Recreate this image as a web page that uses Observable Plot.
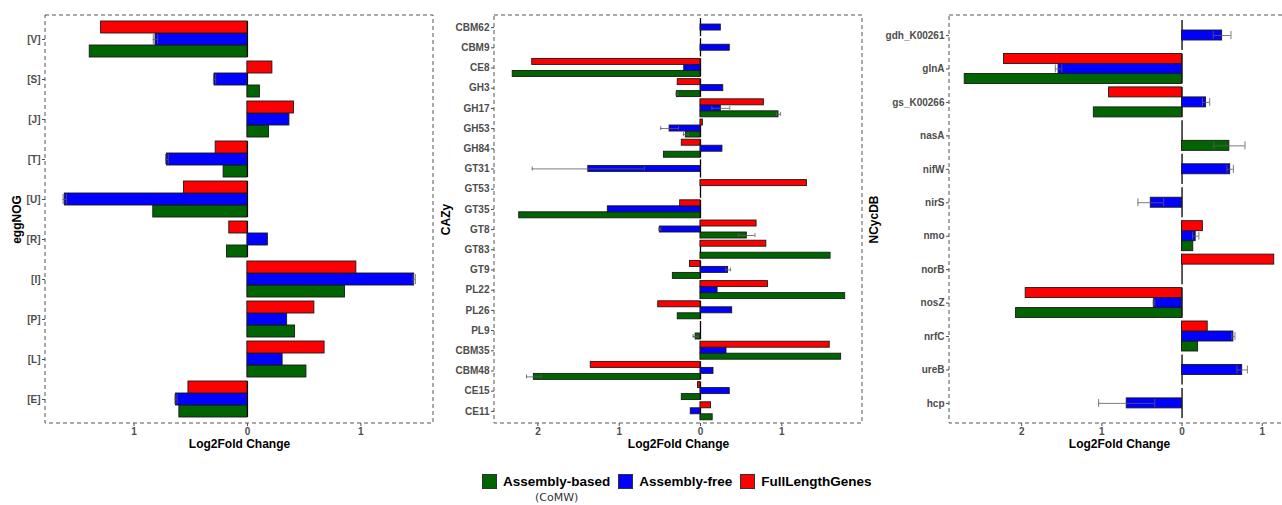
<!DOCTYPE html>
<html><head><meta charset="utf-8">
<script src="https://cdn.jsdelivr.net/npm/d3@7"></script>
<script src="https://cdn.jsdelivr.net/npm/@observablehq/plot@0.6"></script>
<style>
body{margin:0;width:1282px;height:505px;overflow:hidden;background:#fff;position:relative;font-family:"Liberation Sans",Arial,sans-serif}
.panel{position:absolute;top:0}
.panel svg{overflow:visible;max-width:none}
g[aria-label="fy-axis label"], g[aria-label="x-axis label"]{fill:#000;font-size:12px}
#legend{position:absolute;top:474px;left:482px;display:flex;align-items:flex-start}
.item{display:flex;align-items:flex-start;margin-right:8px}
.sw{width:13px;height:13px;border:1px solid #333;margin-right:6px;box-sizing:content-box}
.lab{font:bold 13.5px "Liberation Sans",Arial,sans-serif;color:#000;line-height:15px;text-align:center}
.note{font:11px "DejaVu Sans",sans-serif;color:#333;line-height:13px;margin-top:2px;font-weight:normal}
</style></head><body>
<div id="p1" class="panel" style="left:0px;width:441px"></div>
<div id="p2" class="panel" style="left:440px;width:430px"></div>
<div id="p3" class="panel" style="left:870px;width:427px"></div>
<div id="legend"></div>
<script>
const seriesNames = ["Assembly-based", "Assembly-free", "FullLengthGenes"];
const seriesColors = ["#006400", "#0000ff", "#ff0000"];
const seriesNotes = ["(CoMW)", "", ""];
const withinGroupOrder = ["FullLengthGenes", "Assembly-free", "Assembly-based"];

// eggNOG
const eggCats = ["[V]","[S]","[J]","[T]","[U]","[R]","[I]","[P]","[L]","[E]"];
const eggBased = [-1.39, 0.11, 0.19, -0.21, -0.83, -0.18, 0.86, 0.42, 0.52, -0.60];
const eggFree  = [-0.81, -0.29, 0.37, -0.71, -1.61, 0.18, 1.47, 0.35, 0.31, -0.63];
const eggFull  = [-1.29, 0.22, 0.41, -0.28, -0.56, -0.16, 0.96, 0.59, 0.68, -0.52];
const eggBasedErr = [0, 0, 0, 0, 0, 0, 0, 0, 0, 0];
const eggFreeErr  = [0.02, 0.01, 0, 0.012, 0.015, 0, 0.01, 0, 0, 0.01];

// CAZy
const cazyCats = ["CBM62","CBM9","CE8","GH3","GH17","GH53","GH84","GT31","GT53","GT35","GT8","GT83","GT9","PL22","PL26","PL9","CBM35","CBM48","CE15","CE11"];
const cazyBased = [0, 0, -2.31, -0.29, 0.96, -0.18, -0.45, 0, 0, -2.23, 0.57, 1.60, -0.34, 1.78, -0.28, -0.06, 1.73, -2.05, -0.23, 0.15];
const cazyFree  = [0.25, 0.36, -0.20, 0.28, 0.25, -0.38, 0.27, -1.38, 0, -1.14, -0.50, 0, 0.34, 0.21, 0.39, 0, 0.32, 0.16, 0.36, -0.12];
const cazyFull  = [0, 0, -2.07, -0.28, 0.78, 0.03, -0.23, 0, 1.31, -0.25, 0.69, 0.81, -0.13, 0.83, -0.52, 0, 1.59, -1.35, -0.03, 0.13];
const cazyBasedErr = [0, 0, 0, 0.012, 0.025, 0.03, 0, 0, 0, 0, 0.10, 0, 0, 0, 0, 0.03, 0, 0.09, 0, 0];
const cazyFreeErr  = [0, 0, 0, 0, 0.11, 0.11, 0, 0.69, 0, 0, 0.012, 0, 0.03, 0, 0, 0, 0, 0, 0, 0];

// NCycDB
const ncycCats = ["gdh_K00261","glnA","gs_K00266","nasA","nifW","nirS","nmo","norB","nosZ","nrfC","ureB","hcp"];
const ncycBased = [0, -2.71, -1.10, 0.59, 0, 0, 0.14, 0, -2.07, 0.20, 0, 0];
const ncycFree  = [0.50, -1.54, 0.30, 0, 0.60, -0.39, 0.17, 0, -0.35, 0.64, 0.75, -0.69];
const ncycFull  = [0, -2.22, -0.91, 0, 0, 0, 0.26, 1.15, -1.95, 0.32, 0, 0];
const ncycBasedErr = [0, 0, 0, 0.195, 0, 0, 0, 0, 0, 0, 0, 0];
const ncycFreeErr  = [0.11, 0.04, 0.045, 0, 0.04, 0.16, 0.04, 0, 0.01, 0.02, 0.065, 0.35];

function makePanel(sel, o) {
  const rows = [];
  o.cats.forEach((c, i) => {
    rows.push({cat: c, series: seriesNames[0], value: o.based[i], err: o.basedErr[i]});
    rows.push({cat: c, series: seriesNames[1], value: o.free[i], err: o.freeErr[i]});
    rows.push({cat: c, series: seriesNames[2], value: o.full[i], err: 0});
  });
  const bars = rows.filter(d => d.value !== 0);
  const errs = rows.filter(d => d.err > 0);
  const W = o.marginLeft + o.plotWidth + 8;
  const H = 453, MT = 15, MB = 30;
  const plot = Plot.plot({
    width: W, height: H,
    marginTop: MT, marginBottom: MB, marginLeft: o.marginLeft, marginRight: 8,
    style: {fontFamily: "'Liberation Sans', Arial, sans-serif", fontSize: "10px", fontWeight: "bold", color: "#4d4d4d", background: "transparent", overflow: "visible"},
    x: {domain: o.domain, ticks: o.ticks, tickFormat: d => Math.abs(d), tickSize: 3, tickPadding: 1, label: "Log2Fold Change", labelAnchor: "center", labelArrow: "none", labelOffset: 24},
    y: {domain: withinGroupOrder, axis: null, padding: 0},
    fy: {domain: o.cats, paddingInner: 0.1, paddingOuter: 0.15, round: false, axis: "left", label: o.title, labelAnchor: "center", labelOffset: o.labelOffset, tickSize: 3, tickPadding: 2},
    color: {domain: seriesNames, range: seriesColors},
    marks: [
      Plot.ruleX([0], {stroke: "#000", strokeWidth: 1.3}),
      Plot.barX(bars, {x: "value", y: "series", fy: "cat", fill: "series", stroke: "#1a1a1a", strokeWidth: 0.9}),
      Plot.ruleY(errs, {x1: d => d.value - d.err, x2: d => d.value + d.err, y: "series", fy: "cat", stroke: "#5a5a5a", strokeWidth: 0.8}),
      Plot.tickX(errs, {x: d => d.value - d.err, y: "series", fy: "cat", stroke: "#5a5a5a", strokeWidth: 0.8, inset: 1}),
      Plot.tickX(errs, {x: d => d.value + d.err, y: "series", fy: "cat", stroke: "#5a5a5a", strokeWidth: 0.8, inset: 1})
    ]
  });
  // move the x axis from the bottom facet's edge down to the panel's bottom edge
  const fy = plot.scale("fy");
  const off = (H - MB) - (fy.apply(o.cats[o.cats.length - 1]) + fy.bandwidth);
  plot.querySelectorAll('g[aria-label^="x-axis"]').forEach(g => {
    const t = g.getAttribute("transform") || "";
    g.setAttribute("transform", `translate(0,${off}) ${t}`);
  });
  d3.select(plot).append("rect")
    .attr("x", o.marginLeft).attr("y", MT)
    .attr("width", o.plotWidth).attr("height", H - MT - MB)
    .attr("fill", "none").attr("stroke", "#555").attr("stroke-width", 1)
    .attr("stroke-dasharray", "4,3");
  document.querySelector(sel).appendChild(plot);
}

makePanel("#p1", {cats: eggCats, based: eggBased, free: eggFree, full: eggFull, basedErr: eggBasedErr, freeErr: eggFreeErr,
  title: "eggNOG", domain: [-1.78, 1.64], ticks: [-1, 0, 1], marginLeft: 45, plotWidth: 388, labelOffset: 33});
makePanel("#p2", {cats: cazyCats, based: cazyBased, free: cazyFree, full: cazyFull, basedErr: cazyBasedErr, freeErr: cazyFreeErr,
  title: "CAZy", domain: [-2.534, 1.993], ticks: [-2, -1, 0, 1], marginLeft: 54, plotWidth: 368, labelOffset: 53});
makePanel("#p3", {cats: ncycCats, based: ncycBased, free: ncycFree, full: ncycFull, basedErr: ncycBasedErr, freeErr: ncycFreeErr,
  title: "NCycDB", domain: [-2.9, 1.34], ticks: [-2, -1, 0, 1], marginLeft: 79, plotWidth: 340, labelOffset: 80});

// legend
const leg = d3.select("#legend");
seriesNames.forEach((s, i) => {
  const it = leg.append("div").attr("class", "item");
  it.append("div").attr("class", "sw").style("background", seriesColors[i]);
  const t = it.append("div").attr("class", "lab");
  t.append("div").text(s);
  if (seriesNotes[i]) t.append("div").attr("class", "note").text(seriesNotes[i]);
});
</script>
</body></html>
